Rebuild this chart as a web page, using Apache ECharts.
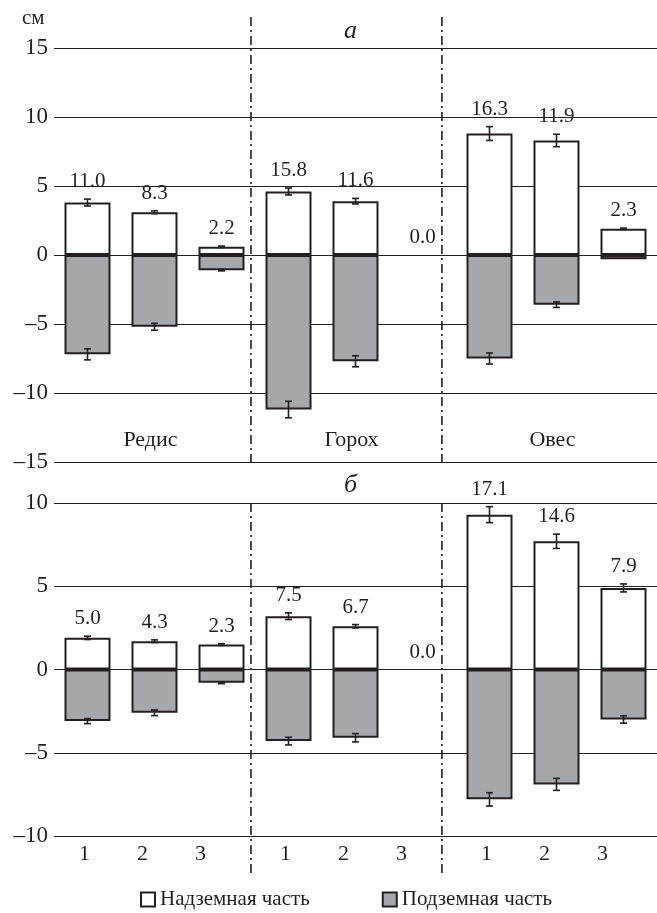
<!DOCTYPE html>
<html>
<head>
<meta charset="utf-8">
<style>
  html, body { margin: 0; padding: 0; background: #fff; }
  #chart { width: 657px; height: 913px; }
</style>
<script src="https://cdn.jsdelivr.net/npm/echarts@6/dist/echarts.min.js"></script>
</head>
<body>
<div id="chart"></div>
<script>
// ---------- data ----------
const categories = ['Редис', 'Горох', 'Овес'];
const treatments = ['1', '2', '3'];
const seriesNames = ['Надземная часть', 'Подземная часть'];

// panel а
const aboveA    = [3.8, 3.1, 0.6, 4.6, 3.9, 0, 8.8, 8.3, 1.9];
const aboveErrA = [0.25, 0.1, 0.05, 0.25, 0.2, 0, 0.5, 0.45, 0.05];
const belowA    = [-7.2, -5.2, -1.1, -11.2, -7.7, 0, -7.5, -3.6, -0.3];
const belowErrA = [0.4, 0.25, 0.05, 0.6, 0.4, 0, 0.4, 0.2, 0];
const totalA    = ['11.0', '8.3', '2.2', '15.8', '11.6', '0.0', '16.3', '11.9', '2.3'];

// panel б
const aboveB    = [1.9, 1.7, 1.5, 3.2, 2.6, 0, 9.3, 7.7, 4.9];
const aboveErrB = [0.1, 0.08, 0.05, 0.2, 0.1, 0, 0.48, 0.43, 0.24];
const belowB    = [-3.1, -2.6, -0.8, -4.3, -4.1, 0, -7.8, -6.9, -3.0];
const belowErrB = [0.15, 0.17, 0.05, 0.23, 0.25, 0, 0.4, 0.36, 0.22];
const totalB    = ['5.0', '4.3', '2.3', '7.5', '6.7', '0.0', '17.1', '14.6', '7.9'];

// separators between crop groups (in bar-index units)
const separators = [2.44, 5.29];

// ---------- styling ----------
const INK = '#231f20';
const GRAY = '#a6a7aa';
const SERIF = '"Liberation Serif", "DejaVu Serif", serif';

const chart = echarts.init(document.getElementById('chart'), null, { renderer: 'canvas' });

function barData(arr) {
  return arr.map((v, i) => [i, v === 0 ? null : v]);
}
function errData(vals, errs) {
  const out = [];
  vals.forEach((v, i) => { if (errs[i] > 0) out.push([i, v - errs[i], v + errs[i]]); });
  return out;
}
function errRender(params, api) {
  const x = api.value(0), lo = api.value(1), hi = api.value(2);
  const p1 = api.coord([x, hi]), p2 = api.coord([x, lo]);
  const w = 3.5;
  const st = { stroke: INK, lineWidth: 1.6 };
  return {
    type: 'group',
    children: [
      { type: 'line', shape: { x1: p1[0], y1: p1[1], x2: p2[0], y2: p2[1] }, style: st },
      { type: 'line', shape: { x1: p1[0] - w, y1: p1[1], x2: p1[0] + w, y2: p1[1] }, style: st },
      { type: 'line', shape: { x1: p2[0] - w, y1: p2[1], x2: p2[0] + w, y2: p2[1] }, style: st }
    ]
  };
}
function labelSeries(idx, above, aboveErr, totals) {
  return {
    type: 'custom', xAxisIndex: idx, yAxisIndex: idx, silent: true, z: 5,
    data: above.map((v, i) => [i, v + aboveErr[i]]),
    renderItem: (params, api) => {
      const p = api.coord([api.value(0), api.value(1)]);
      return {
        type: 'text',
        style: {
          text: totals[params.dataIndex], x: p[0], y: p[1] - 7,
          textAlign: 'center', textVerticalAlign: 'bottom',
          font: '21px ' + SERIF, fill: INK
        }
      };
    }
  };
}
function sepSeries(idx, extTop, extBottom) {
  return {
    type: 'custom', xAxisIndex: idx, yAxisIndex: idx, silent: true, z: 1,
    data: separators.map(s => [s, 0]),
    renderItem: (params, api) => {
      const cs = params.coordSys;
      const x = api.coord([api.value(0), 0])[0];
      return {
        type: 'line',
        shape: { x1: x, y1: cs.y - extTop, x2: x, y2: cs.y + cs.height + extBottom },
        style: { stroke: INK, lineWidth: 1.6, lineDash: [9, 4, 2, 4] }
      };
    }
  };
}
function barSeries(idx, name, arr, color) {
  return {
    type: 'bar', name: name, xAxisIndex: idx, yAxisIndex: idx,
    data: barData(arr), barWidth: 46, barGap: '-100%',
    itemStyle: { color: color, borderColor: INK, borderWidth: 2 },
    z: 3, silent: true
  };
}
function yAxis(idx, min, max) {
  return {
    type: 'value', gridIndex: idx, min: min, max: max, interval: 5,
    axisLine: { show: false }, axisTick: { show: false },
    axisLabel: {
      margin: 6, color: INK, fontFamily: SERIF, fontSize: 23,
      formatter: v => String(v).replace('-', '–')
    },
    splitLine: { lineStyle: { color: INK, width: 1.2 } }
  };
}
function xAxis(idx) {
  return { type: 'value', gridIndex: idx, min: -0.5, max: 8.5, show: false };
}

const option = {
  animation: false,
  backgroundColor: '#fff',
  grid: [
    { left: 54, top: 48, width: 613, height: 414 },
    { left: 54, top: 503, width: 613, height: 333 }
  ],
  xAxis: [xAxis(0), xAxis(1)],
  yAxis: [yAxis(0, -15, 15), yAxis(1, -10, 10)],
  legend: {
    left: 140, top: 889, padding: 0, icon: 'rect', itemWidth: 14, itemHeight: 14, itemGap: 72,
    selectedMode: false,
    textStyle: { fontFamily: SERIF, fontSize: 21, color: INK },
    data: [
      { name: seriesNames[0], itemStyle: { color: '#fff', borderColor: INK, borderWidth: 2 } },
      { name: seriesNames[1], itemStyle: { color: GRAY, borderColor: INK, borderWidth: 2 } }
    ]
  },
  graphic: [
    { type: 'text', left: 22, top: 8, style: { text: 'см', font: '21px ' + SERIF, fill: INK } },
    { type: 'text', left: 344, top: 18, style: { text: 'а', font: 'italic 26px ' + SERIF, fill: INK } },
    { type: 'text', left: 344, top: 472, style: { text: 'б', font: 'italic 26px ' + SERIF, fill: INK } }
  ],
  series: [
    sepSeries(0, 31, 0),
    sepSeries(1, 0, 41),
    barSeries(0, seriesNames[0], aboveA, '#fff'),
    barSeries(0, seriesNames[1], belowA, GRAY),
    barSeries(1, seriesNames[0], aboveB, '#fff'),
    barSeries(1, seriesNames[1], belowB, GRAY),
    { type: 'custom', xAxisIndex: 0, yAxisIndex: 0, silent: true, z: 4, data: errData(aboveA, aboveErrA), renderItem: errRender },
    { type: 'custom', xAxisIndex: 0, yAxisIndex: 0, silent: true, z: 4, data: errData(belowA, belowErrA), renderItem: errRender },
    { type: 'custom', xAxisIndex: 1, yAxisIndex: 1, silent: true, z: 4, data: errData(aboveB, aboveErrB), renderItem: errRender },
    { type: 'custom', xAxisIndex: 1, yAxisIndex: 1, silent: true, z: 4, data: errData(belowB, belowErrB), renderItem: errRender },
    labelSeries(0, aboveA, aboveErrA, totalA),
    labelSeries(1, aboveB, aboveErrB, totalB),
    // crop names inside panel а
    {
      type: 'custom', xAxisIndex: 0, yAxisIndex: 0, silent: true, z: 5,
      data: categories.map((c, i) => [i * 3 + 1, -15]),
      renderItem: (params, api) => {
        const p = api.coord([api.value(0), api.value(1)]);
        return { type: 'text', style: { text: categories[params.dataIndex], x: p[0] - 4, y: p[1] - 22,
          textAlign: 'center', textVerticalAlign: 'middle', font: '22px ' + SERIF, fill: INK } };
      }
    },
    // treatment numbers under panel б
    {
      type: 'custom', xAxisIndex: 1, yAxisIndex: 1, silent: true, z: 5,
      data: aboveB.map((v, i) => [i, -10]),
      renderItem: (params, api) => {
        const p = api.coord([api.value(0), api.value(1)]);
        const j = params.dataIndex % 3;
        return { type: 'text', style: { text: treatments[j], x: p[0] - 3 - 9 * j, y: p[1] + 18,
          textAlign: 'center', textVerticalAlign: 'middle', font: '22px ' + SERIF, fill: INK } };
      }
    }
  ]
};
chart.setOption(option);
</script>
</body>
</html>
